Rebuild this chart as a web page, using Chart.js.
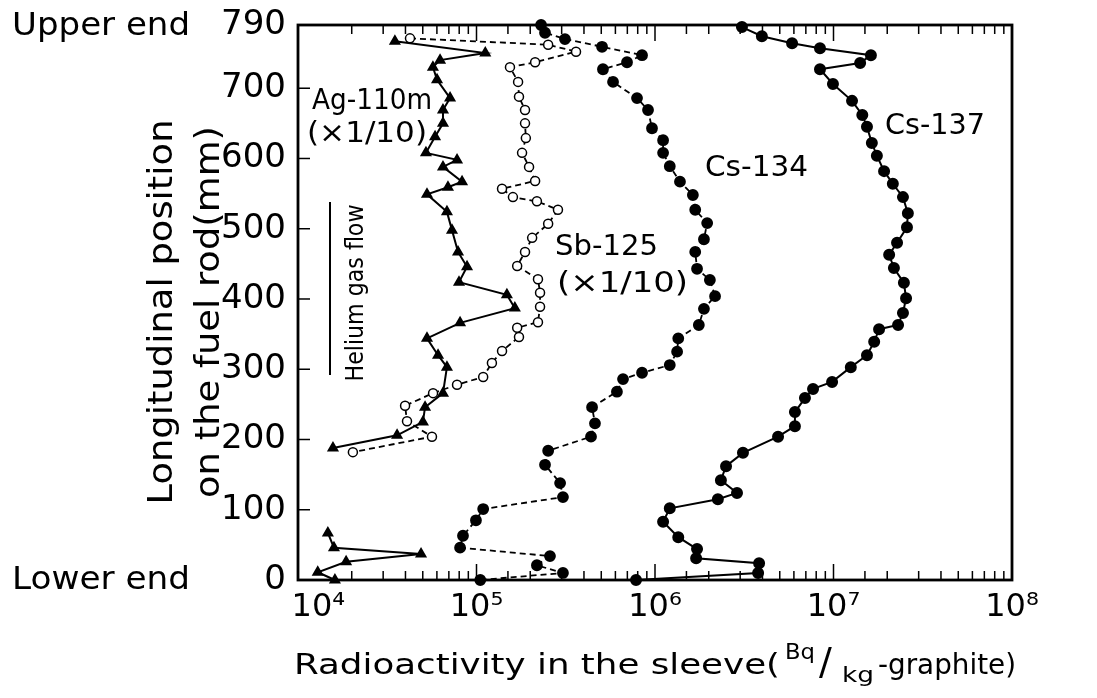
<!DOCTYPE html>
<html>
<head>
<meta charset="utf-8">
<script src="https://cdn.jsdelivr.net/npm/chart.js@4/dist/chart.umd.min.js"></script>
<style>
  html, body { margin: 0; padding: 0; background: #fff; }
  #wrap { width: 1097px; height: 698px; }
</style>
</head>
<body>
<div id="wrap"><canvas id="chart" width="1097" height="698"></canvas></div>
<script>
// position along the rod (mm) and activity (Bq/kg-graphite)
const ag110mPos = [767, 750, 740, 730, 712, 686, 669, 650, 631, 608, 598, 588, 567, 559, 549, 524, 498, 467, 446, 424, 406, 387, 366, 344, 320, 303, 266, 246, 225, 206, 188, null, 67, 46, 37, 26, 11, 0];
const ag110mAct = [3.49e4, 1.12e5, 6.25e4, 5.70e4, 6.01e4, 7.11e4, 6.49e4, 6.49e4, 5.86e4, 5.21e4, 7.78e4, 6.49e4, 8.30e4, 6.92e4, 5.28e4, 6.83e4, 7.29e4, 7.88e4, 8.85e4, 7.98e4, 1.48e5, 1.64e5, 8.09e4, 5.28e4, 6.09e4, 6.83e4, 6.49e4, 5.15e4, 5.01e4, 3.59e4, 1.57e4, null, 1.47e4, 1.59e4, 4.89e4, 1.86e4, 1.29e4, 1.61e4];

const sb125Pos = [771, 762, 752, 737, 730, 709, 688, 669, 650, 629, 608, 588, 568, 557, 545, 539, 527, 507, 487, 467, 447, 428, 409, 389, 367, 359, 346, 326, 309, 289, 278, 266, 248, 226, 204, 182];
const sb125Act = [4.24e4, 2.52e5, 3.61e5, 2.13e5, 1.54e5, 1.71e5, 1.73e5, 1.87e5, 1.87e5, 1.89e5, 1.80e5, 1.97e5, 2.13e5, 1.39e5, 1.60e5, 2.18e5, 2.86e5, 2.52e5, 2.05e5, 1.87e5, 1.69e5, 2.21e5, 2.27e5, 2.27e5, 2.21e5, 1.69e5, 1.73e5, 1.39e5, 1.22e5, 1.09e5, 7.78e4, 5.71e4, 3.98e4, 4.08e4, 5.63e4, 2.03e4];

const cs134Pos = [790, 779, 770, 759, 747, 737, 727, 709, 686, 669, 643, 626, 608, 589, 567, 548, 527, 508, 485, 467, 443, 427, 404, 386, 363, 344, 325, 306, 295, 286, 268, 246, 223, 204, 184, 164, 138, 118, 101, 85, 63, 46, 34, 21, 10, 0];
const cs134Act = [2.30e5, 2.42e5, 3.13e5, 5.05e5, 8.46e5, 6.97e5, 5.11e5, 5.82e5, 7.93e5, 9.14e5, 9.62e5, 1.11e6, 1.11e6, 1.21e6, 1.38e6, 1.63e6, 1.68e6, 1.96e6, 1.88e6, 1.68e6, 1.72e6, 2.03e6, 2.17e6, 1.88e6, 1.76e6, 1.35e6, 1.33e6, 1.21e6, 8.46e5, 6.62e5, 6.12e5, 4.44e5, 4.61e5, 4.38e5, 2.52e5, 2.42e5, 2.94e5, 3.05e5, 1.09e5, 9.93e4, 8.40e4, 8.09e4, 2.58e5, 2.18e5, 3.05e5, 1.05e5];

const cs137Pos = [787, 774, 764, 757, 747, 736, 727, 706, 682, 662, 645, 622, 604, 582, 564, 545, 522, 502, 480, 463, 444, 423, 401, 380, 363, 357, 339, 320, 303, 282, 272, 259, 239, 219, 204, 181, 162, 142, 124, 115, 102, 83, 61, 44, 31, 24, 10, 0];
const cs137Act = [3.07e6, 3.97e6, 5.86e6, 8.40e6, 1.62e7, 1.41e7, 8.40e6, 9.93e6, 1.27e7, 1.45e7, 1.54e7, 1.64e7, 1.75e7, 1.92e7, 2.15e7, 2.45e7, 2.61e7, 2.58e7, 2.27e7, 2.05e7, 2.18e7, 2.48e7, 2.55e7, 2.45e7, 2.30e7, 1.80e7, 1.69e7, 1.54e7, 1.25e7, 9.82e6, 7.68e6, 6.92e6, 6.08e6, 6.08e6, 4.89e6, 3.11e6, 2.50e6, 2.34e6, 2.88e6, 2.25e6, 1.21e6, 1.11e6, 1.35e6, 1.72e6, 1.70e6, 3.83e6, 3.78e6, 7.83e5];

const yTickValues = [0, 100, 200, 300, 400, 500, 600, 700, 790];
const supDigits = { 4: '⁴', 5: '⁵', 6: '⁶', 7: '⁷', 8: '⁸' };

const FONT = '"DejaVu Sans", sans-serif';

function toPoints(pos, act) {
    return pos.map((p, i) => ({ x: act[i], y: p }));
}

// draw text squeezed/stretched to a given width, vertically centred
function fitText(ctx, text, left, cy, width, size) {
    ctx.save();
    ctx.font = size + 'px ' + FONT;
    ctx.textBaseline = 'middle';
    ctx.textAlign = 'left';
    const w = ctx.measureText(text).width;
    ctx.translate(left, cy);
    ctx.scale(width / w, 1);
    ctx.fillText(text, 0, 0);
    ctx.restore();
}

function fitTextVertical(ctx, text, cx, cy, width, size) {
    ctx.save();
    ctx.translate(cx, cy);
    ctx.rotate(-Math.PI / 2);
    fitText(ctx, text, -width / 2, 0, width, size);
    ctx.restore();
}

const frameAndLabels = {
    id: 'frameAndLabels',
    afterDraw(chart) {
        const ctx = chart.ctx;
        const a = chart.chartArea;
        const xs = chart.scales.x;
        const ys = chart.scales.y;

        ctx.save();
        ctx.strokeStyle = '#000';
        ctx.fillStyle = '#000';

        // frame
        ctx.lineWidth = 2.8;
        ctx.strokeRect(a.left, a.top, a.right - a.left, a.bottom - a.top);

        // inward ticks on top and bottom
        ctx.lineWidth = 1.5;
        xs.ticks.forEach(t => {
            const px = xs.getPixelForValue(t.value);
            const lg = Math.log10(t.value);
            const major = Math.abs(lg - Math.round(lg)) < 1e-9;
            const len = major ? 16 : 9;
            ctx.beginPath();
            ctx.moveTo(px, a.bottom);
            ctx.lineTo(px, a.bottom - len);
            ctx.moveTo(px, a.top);
            ctx.lineTo(px, a.top + len);
            ctx.stroke();
        });
        ys.ticks.forEach(t => {
            if (t.value === 0 || t.value === 790) return;
            const py = ys.getPixelForValue(t.value);
            ctx.beginPath();
            ctx.moveTo(a.left, py);
            ctx.lineTo(a.left + 12, py);
            ctx.stroke();
        });

        // end markers
        fitText(ctx, 'Upper end', 12, 27, 178, 32);
        fitText(ctx, 'Lower end', 12, 581, 178, 32);

        // y title
        fitTextVertical(ctx, 'Longitudinal position', 163, 312, 385, 33);
        fitTextVertical(ctx, 'on the fuel rod(mm)', 210, 312, 372, 33);

        // x title
        fitText(ctx, 'Radioactivity in the sleeve(', 294, 666, 486, 29);
        fitText(ctx, 'Bq', 785, 653, 30, 22);
        ctx.save();
        ctx.font = '38px ' + FONT;
        ctx.textBaseline = 'middle';
        ctx.fillText('/', 819, 664);
        ctx.restore();
        fitText(ctx, 'kg', 842, 676, 32, 22);
        fitText(ctx, '-graphite)', 878, 666, 138, 29);

        // curve labels
        fitText(ctx, 'Ag-110m', 312, 102, 120, 28);
        fitText(ctx, '(×1/10)', 307, 135, 120, 28);
        fitText(ctx, 'Sb-125', 555, 248, 103, 28);
        fitText(ctx, '(×1/10)', 557, 285, 131, 28);
        fitText(ctx, 'Cs-134', 705, 169, 103, 28);
        fitText(ctx, 'Cs-137', 885, 127, 100, 28);

        // helium gas flow
        ctx.lineWidth = 2;
        ctx.beginPath();
        ctx.moveTo(330, 202);
        ctx.lineTo(330, 375);
        ctx.stroke();
        fitTextVertical(ctx, 'Helium gas flow', 357, 293, 177, 24);

        ctx.restore();
    }
};

const ctx = document.getElementById('chart').getContext('2d');

new Chart(ctx, {
    type: 'scatter',
    data: {
        datasets: [
            {
                label: 'Ag-110m (x1/10)',
                data: toPoints(ag110mPos, ag110mAct),
                showLine: true,
                borderColor: '#000',
                borderWidth: 2,
                pointStyle: 'triangle',
                pointRadius: 5,
                pointBackgroundColor: '#000',
                pointBorderColor: '#000',
                spanGaps: false,
                clip: false
            },
            {
                label: 'Sb-125 (x1/10)',
                data: toPoints(sb125Pos, sb125Act),
                showLine: true,
                borderColor: '#000',
                borderWidth: 1.8,
                borderDash: [6, 4],
                pointStyle: 'circle',
                pointRadius: 4.5,
                pointBorderWidth: 1.5,
                pointBackgroundColor: '#fff',
                pointBorderColor: '#000',
                clip: false
            },
            {
                label: 'Cs-134',
                data: toPoints(cs134Pos, cs134Act),
                showLine: true,
                borderColor: '#000',
                borderWidth: 1.8,
                borderDash: [6, 4],
                pointStyle: 'circle',
                pointRadius: 5,
                pointBackgroundColor: '#000',
                pointBorderColor: '#000',
                clip: false
            },
            {
                label: 'Cs-137',
                data: toPoints(cs137Pos, cs137Act),
                showLine: true,
                borderColor: '#000',
                borderWidth: 2,
                pointStyle: 'circle',
                pointRadius: 5,
                pointBackgroundColor: '#000',
                pointBorderColor: '#000',
                clip: false
            }
        ]
    },
    options: {
        responsive: false,
        animation: false,
        layout: { padding: { left: 0, right: 85, top: 25, bottom: 0 } },
        plugins: {
            legend: { display: false },
            tooltip: { enabled: false }
        },
        scales: {
            x: {
                type: 'logarithmic',
                min: 1e4,
                max: 1e8,
                grid: { display: false, drawTicks: false },
                border: { display: false },
                ticks: {
                    autoSkip: false,
                    maxRotation: 0,
                    padding: 8,
                    color: '#000',
                    font: { family: FONT, size: 32 },
                    callback: function(value) {
                        const lg = Math.log10(value);
                        const n = Math.round(lg);
                        if (Math.abs(lg - n) > 1e-9) return '';
                        // first label sits right of the corner, as in the figure
                        return (n === 4 ? '    ' : '') + '10' + supDigits[n];
                    }
                },
                afterFit: function(scale) { scale.height = 118; }
            },
            y: {
                type: 'linear',
                min: 0,
                max: 790,
                grid: { display: false, drawTicks: false },
                border: { display: false },
                afterBuildTicks: function(scale) {
                    scale.ticks = yTickValues.map(v => ({ value: v }));
                },
                ticks: {
                    padding: 12,
                    color: '#000',
                    font: { family: FONT, size: 34 }
                },
                afterFit: function(scale) {
                    scale.width = 298;
                    scale.paddingTop = 0;
                    scale.paddingBottom = 0;
                }
            }
        }
    },
    plugins: [frameAndLabels]
});
</script>
</body>
</html>
